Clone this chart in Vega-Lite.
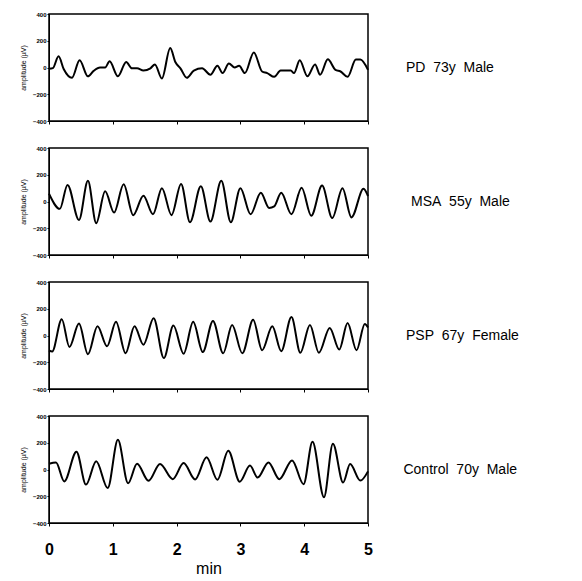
{
  "$schema": "https://vega.github.io/schema/vega-lite/v6.json",
  "padding": {"left": 18, "top": 10, "right": 0, "bottom": 0},
  "background": "white",
  "config": {
    "font": "Liberation Sans",
    "view": {"stroke": "black", "strokeWidth": 1.5},
    "axis": {"domainColor": "black", "tickColor": "black", "labelColor": "black", "titleColor": "black", "grid": false, "labelFont": "Liberation Sans", "titleFont": "Liberation Sans", "labelFlush": false},
    "title": {"font": "Liberation Sans", "fontSize": 14, "fontWeight": "normal", "color": "black"}
  },
  "data": {"values": [
    {"p":"PD","t":0.0,"v":-10},{"p":"PD","t":0.06,"v":-5},{"p":"PD","t":0.15,"v":84},{"p":"PD","t":0.23,"v":-11},{"p":"PD","t":0.36,"v":-77},{"p":"PD","t":0.48,"v":54},{"p":"PD","t":0.61,"v":-66},{"p":"PD","t":0.70,"v":-25},{"p":"PD","t":0.80,"v":0},{"p":"PD","t":0.88,"v":0},{"p":"PD","t":0.95,"v":46},{"p":"PD","t":1.08,"v":-66},{"p":"PD","t":1.21,"v":41},{"p":"PD","t":1.30,"v":-6},{"p":"PD","t":1.38,"v":-6},{"p":"PD","t":1.48,"v":-23},{"p":"PD","t":1.59,"v":-6},{"p":"PD","t":1.66,"v":23},{"p":"PD","t":1.77,"v":-82},{"p":"PD","t":1.90,"v":145},{"p":"PD","t":1.98,"v":41},{"p":"PD","t":2.06,"v":-6},{"p":"PD","t":2.16,"v":-77},{"p":"PD","t":2.27,"v":-23},{"p":"PD","t":2.40,"v":-6},{"p":"PD","t":2.53,"v":-54},{"p":"PD","t":2.64,"v":13},{"p":"PD","t":2.72,"v":-42},{"p":"PD","t":2.82,"v":30},{"p":"PD","t":2.91,"v":0},{"p":"PD","t":2.98,"v":13},{"p":"PD","t":3.07,"v":-42},{"p":"PD","t":3.21,"v":113},{"p":"PD","t":3.34,"v":-30},{"p":"PD","t":3.42,"v":-42},{"p":"PD","t":3.53,"v":-70},{"p":"PD","t":3.63,"v":-23},{"p":"PD","t":3.79,"v":-23},{"p":"PD","t":3.84,"v":-42},{"p":"PD","t":3.93,"v":54},{"p":"PD","t":4.05,"v":-66},{"p":"PD","t":4.17,"v":23},{"p":"PD","t":4.25,"v":-54},{"p":"PD","t":4.37,"v":61},{"p":"PD","t":4.49,"v":-18},{"p":"PD","t":4.57,"v":-30},{"p":"PD","t":4.68,"v":-70},{"p":"PD","t":4.81,"v":59},{"p":"PD","t":4.88,"v":59},{"p":"PD","t":5.0,"v":-18},
    {"p":"MSA","t":0.0,"v":59},{"p":"MSA","t":0.17,"v":-55},{"p":"MSA","t":0.29,"v":124},{"p":"MSA","t":0.47,"v":-138},{"p":"MSA","t":0.61,"v":155},{"p":"MSA","t":0.74,"v":-162},{"p":"MSA","t":0.88,"v":76},{"p":"MSA","t":1.02,"v":-83},{"p":"MSA","t":1.17,"v":129},{"p":"MSA","t":1.32,"v":-102},{"p":"MSA","t":1.48,"v":43},{"p":"MSA","t":1.63,"v":-95},{"p":"MSA","t":1.77,"v":100},{"p":"MSA","t":1.92,"v":-102},{"p":"MSA","t":2.07,"v":131},{"p":"MSA","t":2.21,"v":-155},{"p":"MSA","t":2.38,"v":114},{"p":"MSA","t":2.53,"v":-150},{"p":"MSA","t":2.70,"v":155},{"p":"MSA","t":2.85,"v":-155},{"p":"MSA","t":3.00,"v":100},{"p":"MSA","t":3.16,"v":-95},{"p":"MSA","t":3.32,"v":66},{"p":"MSA","t":3.45,"v":-48},{"p":"MSA","t":3.53,"v":-36},{"p":"MSA","t":3.64,"v":66},{"p":"MSA","t":3.80,"v":-95},{"p":"MSA","t":3.96,"v":102},{"p":"MSA","t":4.11,"v":-107},{"p":"MSA","t":4.28,"v":119},{"p":"MSA","t":4.44,"v":-124},{"p":"MSA","t":4.60,"v":100},{"p":"MSA","t":4.74,"v":-119},{"p":"MSA","t":4.93,"v":95},{"p":"MSA","t":5.0,"v":40},
    {"p":"PSP","t":0.0,"v":-112},{"p":"PSP","t":0.05,"v":-119},{"p":"PSP","t":0.20,"v":121},{"p":"PSP","t":0.32,"v":-86},{"p":"PSP","t":0.47,"v":90},{"p":"PSP","t":0.61,"v":-140},{"p":"PSP","t":0.76,"v":69},{"p":"PSP","t":0.91,"v":-81},{"p":"PSP","t":1.05,"v":102},{"p":"PSP","t":1.20,"v":-133},{"p":"PSP","t":1.34,"v":69},{"p":"PSP","t":1.48,"v":-69},{"p":"PSP","t":1.64,"v":129},{"p":"PSP","t":1.80,"v":-169},{"p":"PSP","t":1.95,"v":74},{"p":"PSP","t":2.11,"v":-136},{"p":"PSP","t":2.26,"v":102},{"p":"PSP","t":2.41,"v":-124},{"p":"PSP","t":2.57,"v":108},{"p":"PSP","t":2.73,"v":-133},{"p":"PSP","t":2.87,"v":79},{"p":"PSP","t":3.03,"v":-133},{"p":"PSP","t":3.20,"v":117},{"p":"PSP","t":3.34,"v":-110},{"p":"PSP","t":3.50,"v":69},{"p":"PSP","t":3.64,"v":-117},{"p":"PSP","t":3.80,"v":138},{"p":"PSP","t":3.94,"v":-129},{"p":"PSP","t":4.09,"v":79},{"p":"PSP","t":4.23,"v":-129},{"p":"PSP","t":4.40,"v":57},{"p":"PSP","t":4.55,"v":-105},{"p":"PSP","t":4.68,"v":93},{"p":"PSP","t":4.82,"v":-110},{"p":"PSP","t":4.95,"v":86},{"p":"PSP","t":5.0,"v":60},
    {"p":"Control","t":0.0,"v":43},{"p":"Control","t":0.11,"v":53},{"p":"Control","t":0.24,"v":-89},{"p":"Control","t":0.43,"v":133},{"p":"Control","t":0.58,"v":-113},{"p":"Control","t":0.74,"v":61},{"p":"Control","t":0.92,"v":-139},{"p":"Control","t":1.08,"v":222},{"p":"Control","t":1.24,"v":-103},{"p":"Control","t":1.38,"v":43},{"p":"Control","t":1.56,"v":-84},{"p":"Control","t":1.74,"v":41},{"p":"Control","t":1.94,"v":-72},{"p":"Control","t":2.11,"v":48},{"p":"Control","t":2.29,"v":-74},{"p":"Control","t":2.47,"v":91},{"p":"Control","t":2.64,"v":-77},{"p":"Control","t":2.81,"v":140},{"p":"Control","t":2.99,"v":-91},{"p":"Control","t":3.15,"v":29},{"p":"Control","t":3.27,"v":-60},{"p":"Control","t":3.44,"v":53},{"p":"Control","t":3.61,"v":-72},{"p":"Control","t":3.81,"v":68},{"p":"Control","t":3.99,"v":-110},{"p":"Control","t":4.13,"v":207},{"p":"Control","t":4.31,"v":-207},{"p":"Control","t":4.45,"v":193},{"p":"Control","t":4.61,"v":-97},{"p":"Control","t":4.72,"v":41},{"p":"Control","t":4.88,"v":-83},{"p":"Control","t":5.0,"v":-14}
  ]},
  "spacing": 18,
  "vconcat": [
    {
      "width": 319, "height": 107,
      "title": {"text": "PD\u00a0\u00a073y\u00a0\u00a0Male", "orient": "right", "angle": 0, "align": "right", "baseline": "middle", "anchor": "middle", "offset": 34},
      "transform": [{"filter": "datum.p === 'PD'"}],
      "mark": {"type": "line", "interpolate": "monotone", "color": "black", "strokeWidth": 2},
      "encoding": {
        "x": {"field": "t", "type": "quantitative", "scale": {"domain": [0, 5], "nice": false}, "axis": {"title": null, "labels": false, "values": [0,1,2,3,4,5], "tickSize": 3}},
        "y": {"field": "v", "type": "quantitative", "scale": {"domain": [-400, 400], "nice": false}, "axis": {"title": "amplitude (µV)", "values": [-400,-200,0,200,400], "labelFontSize": 6, "labelFontWeight": "bold", "titleFontSize": 7, "titleFontWeight": "normal", "tickSize": 2, "labelPadding": 1, "titlePadding": 6}}
      }
    },
    {
      "width": 319, "height": 107,
      "title": {"text": "MSA\u00a0\u00a055y\u00a0\u00a0Male", "orient": "right", "angle": 0, "align": "right", "baseline": "middle", "anchor": "middle", "offset": 39},
      "transform": [{"filter": "datum.p === 'MSA'"}],
      "mark": {"type": "line", "interpolate": "monotone", "color": "black", "strokeWidth": 2},
      "encoding": {
        "x": {"field": "t", "type": "quantitative", "scale": {"domain": [0, 5], "nice": false}, "axis": {"title": null, "labels": false, "values": [0,1,2,3,4,5], "tickSize": 3}},
        "y": {"field": "v", "type": "quantitative", "scale": {"domain": [-400, 400], "nice": false}, "axis": {"title": "amplitude (µV)", "values": [-400,-200,0,200,400], "labelFontSize": 6, "labelFontWeight": "bold", "titleFontSize": 7, "titleFontWeight": "normal", "tickSize": 2, "labelPadding": 1, "titlePadding": 6}}
      }
    },
    {
      "width": 319, "height": 107,
      "title": {"text": "PSP\u00a0\u00a067y\u00a0\u00a0Female", "orient": "right", "angle": 0, "align": "right", "baseline": "middle", "anchor": "middle", "offset": 34},
      "transform": [{"filter": "datum.p === 'PSP'"}],
      "mark": {"type": "line", "interpolate": "monotone", "color": "black", "strokeWidth": 2},
      "encoding": {
        "x": {"field": "t", "type": "quantitative", "scale": {"domain": [0, 5], "nice": false}, "axis": {"title": null, "labels": false, "values": [0,1,2,3,4,5], "tickSize": 3}},
        "y": {"field": "v", "type": "quantitative", "scale": {"domain": [-400, 400], "nice": false}, "axis": {"title": "amplitude (µV)", "values": [-400,-200,0,200,400], "labelFontSize": 6, "labelFontWeight": "bold", "titleFontSize": 7, "titleFontWeight": "normal", "tickSize": 2, "labelPadding": 1, "titlePadding": 6}}
      }
    },
    {
      "width": 319, "height": 107,
      "title": {"text": "Control\u00a0\u00a070y\u00a0\u00a0Male", "orient": "right", "angle": 0, "align": "right", "baseline": "middle", "anchor": "middle", "offset": 31},
      "transform": [{"filter": "datum.p === 'Control'"}],
      "mark": {"type": "line", "interpolate": "monotone", "color": "black", "strokeWidth": 2},
      "encoding": {
        "x": {"field": "t", "type": "quantitative", "scale": {"domain": [0, 5], "nice": false}, "axis": {"title": "min", "values": [0,1,2,3,4,5], "tickSize": 3, "labelFontSize": 16, "labelFontWeight": "bold", "labelPadding": 15, "titleFontSize": 16, "titleFontWeight": "normal", "titlePadding": 3}},
        "y": {"field": "v", "type": "quantitative", "scale": {"domain": [-400, 400], "nice": false}, "axis": {"title": "amplitude (µV)", "values": [-400,-200,0,200,400], "labelFontSize": 6, "labelFontWeight": "bold", "titleFontSize": 7, "titleFontWeight": "normal", "tickSize": 2, "labelPadding": 1, "titlePadding": 6}}
      }
    }
  ]
}
